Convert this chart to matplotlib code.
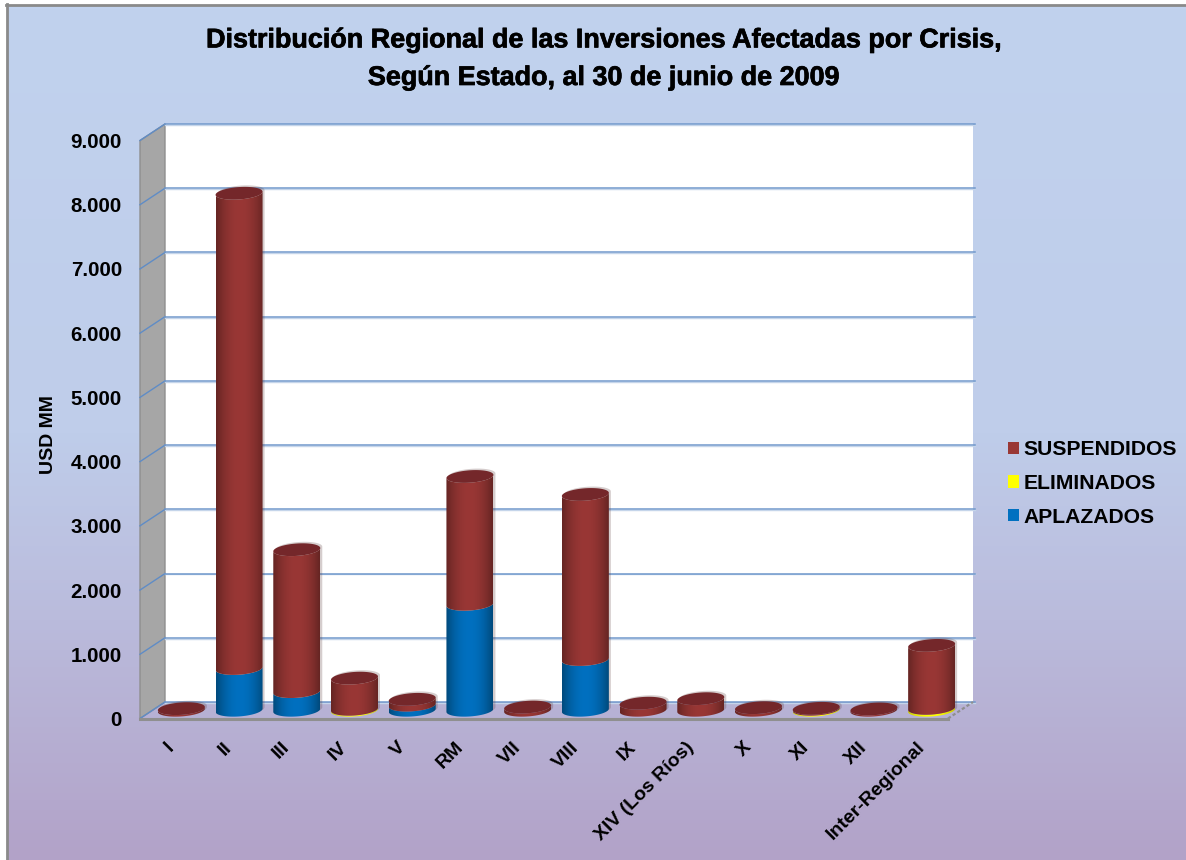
import numpy as np
import matplotlib
matplotlib.use("Agg")
import matplotlib.pyplot as plt
from matplotlib.patches import Polygon, Patch
from matplotlib.transforms import ScaledTranslation
import matplotlib.patheffects as pe

plt.rcParams['font.family'] = ['Liberation Sans', 'DejaVu Sans']

regions = ['I', 'II', 'III', 'IV', 'V', 'RM', 'VII', 'VIII', 'IX', 'XIV (Los Ríos)', 'X', 'XI', 'XII', 'Inter-Regional']
aplazados   = [0, 650, 290, 0, 80, 1650, 0, 790, 0, 0, 0, 0, 0, 0]
eliminados  = [0, 0, 0, 15, 0, 0, 0, 0, 0, 0, 0, 15, 0, 30]
suspendidos = [25, 7400, 2210, 485, 90, 1990, 50, 2570, 110, 180, 40, 15, 20, 980]
y_ticks = [0, 1000, 2000, 3000, 4000, 5000, 6000, 7000, 8000, 9000]
y_tick_labels = ['0', '1.000', '2.000', '3.000', '4.000', '5.000', '6.000', '7.000', '8.000', '9.000']

W, H = 1186, 860
fig = plt.figure(figsize=(W / 100, H / 100), dpi=100, facecolor='white')

# background
bg = fig.add_axes([8 / W, 0, 1 - 8 / W, 1 - 6 / H], zorder=-2)
stops = np.array([0, 0.5, 0.72, 1.0])
reds = np.array([193, 191, 186, 178]) / 255
greens = np.array([210, 205, 187, 162]) / 255
blues = np.array([238, 234, 220, 200]) / 255
t = np.linspace(0, 1, 256)
grad = np.column_stack([np.interp(t, stops, reds), np.interp(t, stops, greens), np.interp(t, stops, blues)])
bg.imshow(grad.reshape(256, 1, 3), aspect='auto', extent=[0, 1, 0, 1])
bg.axis('off')
fig.add_artist(plt.Line2D([7 / W, 7 / W], [0, 1 - 4 / H], color='#8a8a8a', lw=2))
fig.add_artist(plt.Line2D([6 / W, 1], [1 - 5 / H, 1 - 5 / H], color='#8a8a8a', lw=2))

# main axes (front plane of the 3D box)
ax = fig.add_axes([140 / W, (H - 718.5) / H, 808 / W, 578 / H])
ax.patch.set_visible(False)
ax.set_xlim(-0.5, 13.5)
ax.set_ylim(0, 9000)
sx = 808 / 14
sy = 578 / 9000
dx_depth = 25 / sx
dy_depth = 16.5 / sy


def proj(x, y, d):
    return x + d * dx_depth, y + d * dy_depth


x0, x1 = -0.5, 13.5
# walls
ax.add_patch(Polygon([proj(x0, 0, 1), proj(x1, 0, 1), proj(x1, 9000, 1), proj(x0, 9000, 1)],
                     fc='white', ec='none', zorder=1, clip_on=False))
ax.add_patch(Polygon([proj(x0, 0, 0), proj(x0, 9000, 0), proj(x0, 9000, 1), proj(x0, 0, 1)],
                     fc='#a6a6a6', ec='#8f8f8f', lw=1, zorder=1.2, clip_on=False))
# gridlines
for v in y_ticks:
    a, b = proj(x0, v, 0), proj(x0, v, 1)
    ax.plot([a[0], b[0]], [a[1], b[1]], color='#5f8cc6', lw=1, zorder=1.5, clip_on=False)
    c = proj(x1 + 0.03, v, 1)
    ax.plot([b[0], c[0]], [b[1] - 14, c[1] - 14], color='#c5d5ea', lw=1, zorder=1.4, clip_on=False)
    ax.plot([b[0], c[0]], [b[1], c[1]], color='#7199cc', lw=1.1, zorder=1.5, clip_on=False)
# floor edges
a, b = proj(x0, 0, 0), proj(x1, 0, 0)
ax.plot([a[0], b[0]], [a[1], b[1]], color='#8f8f8f', lw=2.2, zorder=1.6, clip_on=False)
c = proj(x1, 0, 1)
ax.plot([b[0], c[0]], [b[1], c[1]], color='#8f8f8f', lw=1.6, ls=(0, (1.5, 1)), zorder=1.6, clip_on=False)

# cylinders
rx = 23.5 / sx
ry = 6.2 / sy
tilt = 1.6 / sy
th_lo = np.linspace(np.pi, 2 * np.pi, 40)
th_all = np.linspace(0, 2 * np.pi, 80)


def shade(edge, mid):
    e = np.array(matplotlib.colors.to_rgb(edge))
    m = np.array(matplotlib.colors.to_rgb(mid))
    u = np.linspace(-1, 1, 64)
    w = (1 - np.abs(u) ** 2.0)[:, None]
    return (e + (m - e) * w)[None, :, :]


def lower_arc(cx, cy, v):
    return np.column_stack([cx + rx * np.cos(th_lo), cy + v + ry * np.sin(th_lo) + tilt * np.cos(th_lo)])


def draw_segment(cx, cy, v0, v1, edge, mid, z):
    low = lower_arc(cx, cy, v0)
    up = lower_arc(cx, cy, v1)[::-1]
    poly = Polygon(np.vstack([low, up]), closed=True, fc='none', ec='none',
                   transform=ax.transData, clip_on=False)
    ax.add_patch(poly)
    ymin = cy + v0 - ry - tilt
    ymax = cy + v1 + ry + tilt
    im = ax.imshow(shade(edge, mid), extent=[cx - rx, cx + rx, ymin, ymax], aspect='auto',
                   interpolation='bilinear', zorder=z)
    im.set_clip_box(fig.bbox)
    im.set_clip_path(poly)


series = [('APLAZADOS', aplazados, '#004a7c', '#0070c0'),
          ('ELIMINADOS', eliminados, '#c8c800', '#ffff00'),
          ('SUSPENDIDOS', suspendidos, '#662523', '#993735')]
cap_colour = '#74272a'

for i in range(len(regions)):
    cx, cy = proj(i, 0, 0.5)
    total = aplazados[i] + eliminados[i] + suspendidos[i]
    # soft shadow behind
    low = lower_arc(cx, cy, 0)
    th_up = np.linspace(2 * np.pi, 3 * np.pi, 40)
    up = np.column_stack([cx + rx * np.cos(th_up), cy + total + ry * np.sin(th_up) + tilt * np.cos(th_up)])
    shadow = np.vstack([low, up]) + [2 / sx, 1.5 / sy]
    ax.add_patch(Polygon(shadow, fc='#5a3a3a', alpha=0.25, ec='none', zorder=2, clip_on=False))
    base = 0
    z = 3 + i * 0.01
    for name, vals, edge, mid in series:
        v = vals[i]
        if v > 0:
            draw_segment(cx, cy, base, base + v, edge, mid, z)
            base += v
    ell = np.column_stack([cx + rx * np.cos(th_all), cy + total + ry * np.sin(th_all) + tilt * np.cos(th_all)])
    ax.add_patch(Polygon(ell, fc=cap_colour, ec='none', zorder=z + 0.005, clip_on=False))

ax.set_xlim(-0.5, 13.5)
ax.set_ylim(0, 9000)

for s in ax.spines.values():
    s.set_visible(False)
ax.set_yticks(y_ticks)
ax.set_yticklabels(y_tick_labels, fontsize=14.8, fontweight='bold', color='black')
ax.set_xticks(range(len(regions)))
ax.set_xticklabels(regions, fontsize=14, fontweight='bold', color='black', rotation=45, ha='right',
                   rotation_mode='anchor', va='center')
ax.tick_params(axis='y', length=0, pad=13)
ax.tick_params(axis='x', length=0, pad=19)
shift = ScaledTranslation(3 / 100, 0, fig.dpi_scale_trans)
for lab in ax.get_xticklabels():
    lab.set_transform(lab.get_transform() + shift)
ax.set_ylabel('USD MM', fontsize=14, fontweight='bold', color='black')
ax.yaxis.set_label_coords((45 - 140 + 4) / 808, (718.5 - 435) / 578)
ax.yaxis.label.set_va('center')

ttl = fig.text(603 / W, 1 - 85 / H,
               'Distribución Regional de las Inversiones Afectadas por Crisis,\nSegún Estado, al 30 de junio de 2009',
               va='baseline', ha='center', fontsize=19.4, fontweight='bold', color='black', linespacing=1.58)
ttl.set_path_effects([pe.withStroke(linewidth=0.5, foreground='black')])

handles = [Patch(fc='#993735', label='SUSPENDIDOS'), Patch(fc='#ffff00', label='ELIMINADOS'),
           Patch(fc='#0070c0', label='APLAZADOS')]
fig.legend(handles=handles, loc='center left', bbox_to_anchor=(1008 / W, 1 - 483.5 / H), frameon=False,
           prop={'family': 'Liberation Sans', 'weight': 'bold', 'size': 15.2},
           handlelength=0.52, handleheight=0.52, handletextpad=0.2, labelspacing=0.69, borderpad=0, borderaxespad=0)

fig.savefig('out.png', dpi=100)
